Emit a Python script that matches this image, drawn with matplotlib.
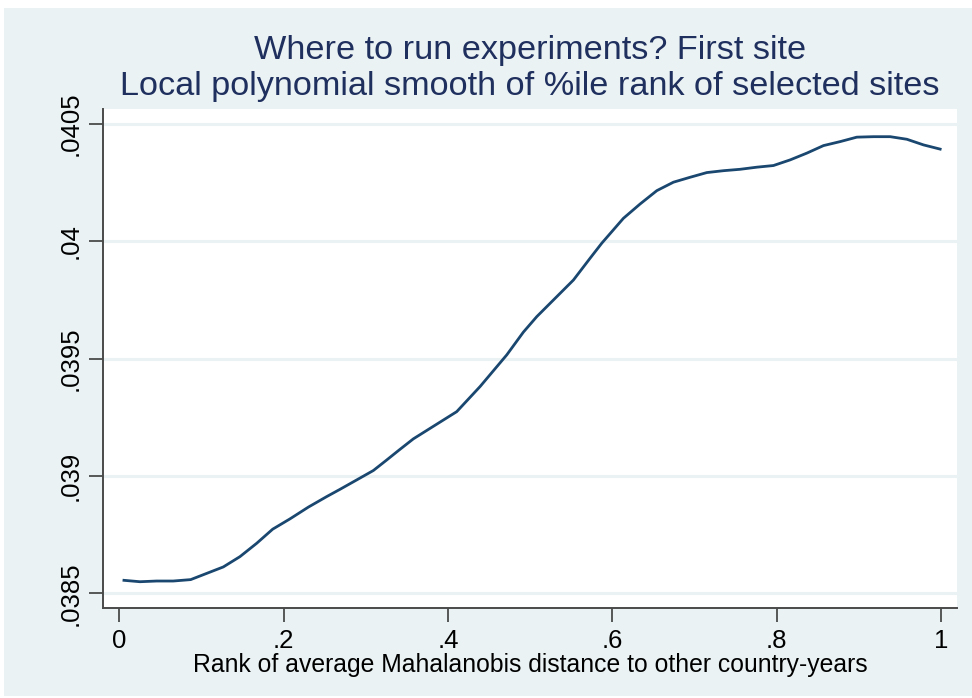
import matplotlib
matplotlib.use("Agg")
import matplotlib.pyplot as plt

# Local polynomial smooth: percentile rank of selected sites
rank = [0.0057, 0.0252, 0.0455, 0.0657, 0.0869, 0.1266, 0.1469, 0.1673, 0.1867,
        0.2078, 0.2301, 0.2525, 0.2687, 0.2890, 0.3092, 0.3255, 0.3408, 0.3579,
        0.4107, 0.4391, 0.4716, 0.4918, 0.5081, 0.5304, 0.5527, 0.5730, 0.5872,
        0.6135, 0.6338, 0.6542, 0.6744, 0.6947, 0.7150, 0.7352, 0.7556, 0.7759,
        0.7961, 0.8164, 0.8368, 0.8570, 0.8773, 0.8976, 0.9178, 0.9382, 0.9585,
        0.9787, 0.9990]
smooth = [0.038555, 0.038549, 0.038552, 0.038552, 0.038558, 0.038612, 0.038656,
          0.038713, 0.038773, 0.038817, 0.038867, 0.038912, 0.038943, 0.038983,
          0.039023, 0.039068, 0.039111, 0.039158, 0.039274, 0.039381, 0.039516,
          0.039613, 0.039679, 0.039757, 0.039835, 0.039928, 0.039992, 0.040098,
          0.040159, 0.040216, 0.040252, 0.040273, 0.040293, 0.040301, 0.040307,
          0.040316, 0.040323, 0.040347, 0.040376, 0.040408, 0.040425, 0.040444,
          0.040446, 0.040446, 0.040435, 0.040411, 0.040393]

xticks = [0, 0.2, 0.4, 0.6, 0.8, 1.0]
xtick_labels = ["0", ".2", ".4", ".6", ".8", "1"]
yticks = [0.0385, 0.039, 0.0395, 0.04, 0.0405]
ytick_labels = [".0385", ".039", ".0395", ".04", ".0405"]

title_lines = ["Where to run experiments? First site",
               "Local polynomial smooth of %ile rank of selected sites"]
xlabel = "Rank of average Mahalanobis distance to other country-years"

plt.rcParams["font.family"] = ["Liberation Sans", "DejaVu Sans"]

W, H = 972, 698
fig = plt.figure(figsize=(W / 100, H / 100), dpi=100, facecolor="white")

# Stata-style outer graph region
bg = plt.Rectangle((4 / W, 2 / H), (W - 4) / W, (H - 10) / H,
                   transform=fig.transFigure, facecolor="#eaf2f3",
                   edgecolor="none", zorder=0)
fig.add_artist(bg)

left, right, top, bottom = 103, 957, 109, 608
ax = fig.add_axes([left / W, 1 - bottom / H, (right - left) / W, (bottom - top) / H])
ax.set_facecolor("white")

ax.plot(rank, smooth, color="#1a476f", lw=2.0, solid_joinstyle="round", zorder=3)

ax.set_xlim(-0.0198, 1.0195)
ax.set_ylim(0.038437, 0.040564)

ax.set_xticks(xticks)
ax.set_xticklabels(xtick_labels)
ax.set_yticks(yticks)
ax.set_yticklabels(ytick_labels, rotation=90, va="center")

ax.grid(axis="y", color="#eaf2f3", lw=2.2, zorder=1)
ax.grid(axis="x", visible=False)

for side in ["top", "right"]:
    ax.spines[side].set_visible(False)
for side in ["left", "bottom"]:
    ax.spines[side].set_color("#4a4a4a")
    ax.spines[side].set_linewidth(1.4)

ax.tick_params(axis="both", direction="out", length=10, width=1.3,
               color="#4a4a4a", labelsize=18.5, labelcolor="black")
ax.tick_params(axis="x", pad=5)
ax.tick_params(axis="y", pad=5)

ax.set_xlabel(xlabel, fontsize=17.8, color="black", labelpad=0)

cx = (left + right) / 2 / W
fig.text(cx, 1 - 51 / H, title_lines[0], ha="center", va="center",
         fontsize=24.7, color="#1f2f5e")
fig.text(cx, 1 - 87 / H, title_lines[1], ha="center", va="center",
         fontsize=24.7, color="#1f2f5e")

fig.savefig("out.png", dpi=100, facecolor="white")
